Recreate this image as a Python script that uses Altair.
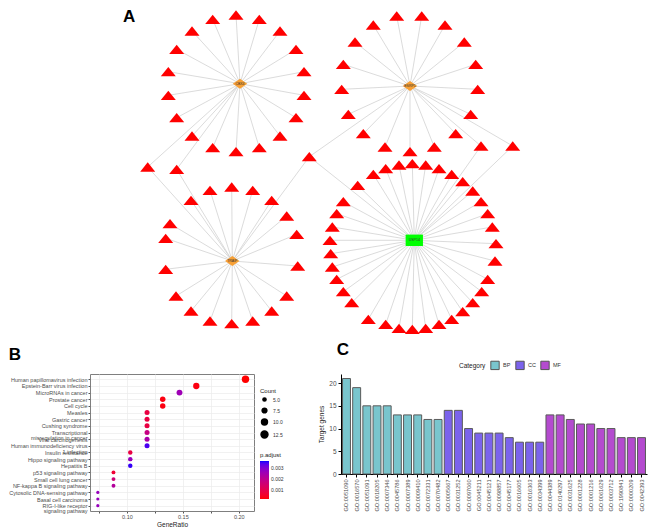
import altair as alt
import pandas as pd

FONT = "Liberation Sans"

# ---------------- Panel A: network (node positions, px) ----------------
hub_label = ["CBX4", "ESRP1", "TRAIP", "USP14"]
hub_kind = ["diamond", "diamond", "diamond", "square"]
hub_x = [240.0, 410.0, 232.3, 414.3]
hub_y = [82.7, 85.0, 260.0, 239.3]

tl_x = [212.7, 236.0, 259.3, 280.0, 296.0, 304.0, 304.0, 296.0, 280.0, 259.3, 236.0, 212.7, 192.0, 176.7, 168.3, 168.3, 176.7, 192.0]
tl_y = [18.3, 14.0, 18.3, 30.0, 48.3, 70.7, 94.3, 116.7, 135.0, 146.7, 150.7, 146.7, 135.0, 116.7, 94.3, 70.7, 48.3, 30.0]

tr_x = [373.3, 396.7, 421.7, 445.0, 464.3, 475.7, 477.7, 470.7, 455.7, 434.3, 410.0, 385.0, 363.3, 348.3, 341.7, 343.3, 355.0]
tr_y = [24.0, 15.0, 15.0, 24.0, 41.0, 63.3, 88.3, 113.3, 132.7, 146.0, 150.7, 146.0, 132.7, 113.3, 88.3, 63.3, 41.0]

bl_x = [210.0, 231.7, 252.7, 271.7, 286.7, 296.7, 297.7, 286.7, 271.7, 252.7, 231.7, 210.0, 191.0, 176.0, 165.7, 165.7, 170.0, 191.0]
bl_y = [189.3, 186.0, 189.3, 199.3, 215.0, 233.3, 265.0, 295.0, 310.0, 320.0, 322.7, 320.0, 310.0, 295.0, 268.3, 237.3, 222.7, 199.3]

br_x = [357.7, 373.3, 385.7, 399.0, 412.3, 425.7, 439.0, 451.7, 462.7, 472.7, 481.0, 487.7, 492.3, 496.0, 495.0,
        487.7, 481.7, 472.7, 462.7, 451.7, 439.0, 425.7, 412.3, 399.0, 385.7, 368.3, 351.7, 343.3, 336.7, 332.3,
        330.7, 330.0, 332.3, 336.7, 343.3]
br_y = [184.3, 173.3, 167.7, 164.0, 162.7, 164.0, 167.7, 173.3, 180.7, 190.0, 200.7, 212.7, 226.0, 242.7, 260.0,
        278.3, 290.7, 301.7, 310.7, 318.3, 323.3, 327.3, 328.3, 327.3, 323.3, 318.3, 301.7, 290.7, 278.3, 266.0,
        252.7, 239.3, 226.0, 212.7, 200.7]

# targets shared by several hubs
sh_x = [147.7, 176.7, 309.3, 481.0, 512.7]
sh_y = [166.0, 168.3, 155.7, 145.0, 145.0]
sh_hubs = [[0, 2], [0, 2], [1, 2, 3], [1, 3], [1, 3]]

# ---------------- Panel B: KEGG dot plot ----------------
kegg_term = ["Human papillomavirus infection", "Epstein-Barr virus infection", "MicroRNAs in cancer",
             "Prostate cancer", "Cell cycle", "Measles", "Gastric cancer", "Cushing syndrome",
             "Transcriptional misregulation in cancer", "Viral carcinogenesis",
             "Human immunodeficiency virus 1 infection", "Insulin resistance", "Hippo signaling pathway",
             "Hepatitis B", "p53 signaling pathway", "Small cell lung cancer", "NF-kappa B signaling pathway",
             "Cytosolic DNA-sensing pathway", "Basal cell carcinoma", "RIG-I-like receptor signaling pathway"]
kegg_count = [14, 11, 10, 9, 9, 8, 8, 8, 8, 8, 8, 7, 7, 7, 6, 6, 6, 5, 5, 5]
kegg_ratio = [0.206, 0.162, 0.147, 0.132, 0.132, 0.118, 0.118, 0.118, 0.118, 0.118, 0.118,
              0.103, 0.103, 0.103, 0.088, 0.088, 0.088, 0.074, 0.074, 0.074]
kegg_padj = [0.0001, 0.0002, 0.0026, 0.0002, 0.0002, 0.0008, 0.0008, 0.0008, 0.0018, 0.0024, 0.0035,
             0.0008, 0.0027, 0.0036, 0.0006, 0.0016, 0.0022, 0.0027, 0.0027, 0.0027]
wrapped = {
    "Transcriptional misregulation in cancer": ["Transcriptional", "misregulation in cancer"],
    "Human immunodeficiency virus 1 infection": ["Human immunodeficiency virus", "1 infection"],
    "RIG-I-like receptor signaling pathway": ["RIG-I-like receptor", "signaling pathway"],
}

# ---------------- Panel C: GO bar chart ----------------
go_id = ["GO:0051090", "GO:0016570", "GO:0051091", "GO:0018205", "GO:0007346", "GO:0045786", "GO:0007389",
         "GO:0009410", "GO:0072331", "GO:0070482",
         "GO:0005667", "GO:0031252", "GO:0097060", "GO:0045211", "GO:0045121", "GO:0098857", "GO:0045177",
         "GO:0016605", "GO:0016363", "GO:0034399",
         "GO:0044389", "GO:0140297", "GO:0031625", "GO:0001228", "GO:0001216", "GO:0061629", "GO:0003712",
         "GO:1990841", "GO:0000209", "GO:0042393"]
go_genes = [21, 19, 15, 15, 15, 13, 13, 13, 12, 12,
            14, 14, 10, 9, 9, 9, 8, 7, 7, 7,
            13, 13, 12, 11, 11, 10, 10, 8, 8, 8]
go_cat = ["BP"] * 10 + ["CC"] * 10 + ["MF"] * 10
cat_names = ["BP", "CC", "MF"]
cat_colors = ["#79C5CD", "#7B63EC", "#B44BCF"]

# ================= build =================
NET_LEFT = 90  # page x where the network panel starts (aligned with panel B's plot)

edge_rows = []
for h, (xs, ys) in enumerate([(tl_x, tl_y), (tr_x, tr_y), (bl_x, bl_y), (br_x, br_y)]):
    for x, y in zip(xs, ys):
        edge_rows.append({"x": hub_x[h], "y": hub_y[h], "x2": x, "y2": y})
for x, y, hubs in zip(sh_x, sh_y, sh_hubs):
    for h in hubs:
        edge_rows.append({"x": hub_x[h], "y": hub_y[h], "x2": x, "y2": y})
edges = pd.DataFrame(edge_rows)
nodes = pd.DataFrame({"x": tl_x + tr_x + bl_x + br_x + sh_x, "y": tl_y + tr_y + bl_y + br_y + sh_y})
hubs_df = pd.DataFrame({"x": hub_x, "y": hub_y, "label": hub_label, "kind": hub_kind})

NX = alt.Scale(domain=[NET_LEFT, 651], nice=False, zero=False)
NY = alt.Scale(domain=[8, 336], nice=False, zero=False, reverse=True)
ex = alt.X("x:Q", scale=NX, axis=None)
ey = alt.Y("y:Q", scale=NY, axis=None)

edge_layer = alt.Chart(edges).mark_rule(color="#CCCCCC", strokeWidth=0.7).encode(
    x=ex, y=ey, x2="x2:Q", y2="y2:Q")
tri_layer = alt.Chart(nodes).mark_point(
    shape="M0,-0.62L1,0.62L-1,0.62Z", filled=True, size=225, color="#FF0000", opacity=1, strokeWidth=0
).encode(x=ex, y=ey)
dia_layer = alt.Chart(hubs_df).transform_filter("datum.kind == 'diamond'").mark_point(
    shape="M-1,0L0,-0.7L1,0L0,0.7Z", filled=True, size=210, color="#F7A035", opacity=1, strokeWidth=0
).encode(x=ex, y=ey)
sq_layer = alt.Chart(hubs_df).transform_filter("datum.kind == 'square'").mark_point(
    shape="M-1,-0.66L1,-0.66L1,0.66L-1,0.66Z", filled=True, size=300, color="#00FF00", opacity=1, strokeWidth=0
).encode(x=ex, y=ey)
hub_text = alt.Chart(hubs_df).mark_text(font=FONT, fontSize=3.5, color="#333333").encode(
    x=ex, y=ey, text="label:N")
a_text = alt.Chart(pd.DataFrame({"t": ["A"]})).mark_text(
    font=FONT, fontSize=17, fontWeight="bold", align="left", baseline="top", color="black"
).encode(text="t:N", x=alt.value(123 - NET_LEFT), y=alt.value(0))

network = alt.layer(edge_layer, tri_layer, dia_layer, sq_layer, hub_text, a_text).properties(
    width=651 - NET_LEFT, height=328)

# ---- B
kegg = pd.DataFrame({"term": kegg_term, "count": kegg_count, "ratio": kegg_ratio, "padj": kegg_padj})
label_expr = ""
for k, v in wrapped.items():
    label_expr += "datum.label == '%s' ? ['%s', '%s'] : " % (k, v[0], v[1])
label_expr += "datum.label"

dot = alt.Chart(kegg).mark_circle(opacity=1).encode(
    x=alt.X("ratio:Q", title="GeneRatio",
            scale=alt.Scale(domain=[0.067, 0.2136], nice=False, zero=False),
            axis=alt.Axis(values=[0.075, 0.1, 0.125, 0.15, 0.175, 0.2],
                          labelExpr="indexof(['0.10','0.15','0.20'], format(datum.value, '.2f')) >= 0 ? format(datum.value, '.2f') : ''",
                          labelFontSize=5.5, labelColor="#4D4D4D", tickSize=2, tickColor="#555555",
                          domain=False, grid=True, gridColor="#EBEBEB", gridWidth=0.7,
                          titleFontSize=6.5, titleFontWeight="normal", titleColor="#222222",
                          titlePadding=2, labelPadding=1)),
    y=alt.Y("term:N", sort=kegg_term, title=None,
            scale=alt.Scale(padding=0.8),
            axis=alt.Axis(labelExpr=label_expr, labelFontSize=5.5, labelColor="#4D4D4D", labelLineHeight=5.2,
                          tickSize=2, tickColor="#555555", domain=False, grid=True, gridColor="#EBEBEB",
                          gridWidth=0.7, labelPadding=1, labelLimit=200)),
    size=alt.Size("count:Q", scale=alt.Scale(domain=[5, 14], range=[10, 55], zero=False),
                  legend=alt.Legend(title="Count", orient="none", legendX=170, legendY=14,
                                    values=[5, 7.5, 10, 12.5], format=".1f", symbolFillColor="black",
                                    symbolStrokeColor="black", symbolType="circle",
                                    titleFontSize=6, titleFontWeight="normal", labelFontSize=5,
                                    rowPadding=0, titlePadding=3)),
    color=alt.Color("padj:Q", scale=alt.Scale(domain=[0.0001, 0.0037], range=["#FF0000", "#0000FF"],
                                              interpolate="lab"),
                    legend=alt.Legend(title="p.adjust", orient="none", legendX=170, legendY=78,
                                      values=[0.001, 0.002, 0.003], format=".3f", gradientLength=38,
                                      gradientThickness=9, titleFontSize=6, titleFontWeight="normal",
                                      labelFontSize=5, titlePadding=3)),
).properties(
    width=164, height=137,
    title=alt.TitleParams("B", anchor="start", frame="bounds", fontSize=17, fontWeight="bold",
                          font=FONT, offset=10, color="black"),
    view=alt.ViewBackground(stroke="#7F7F7F", strokeWidth=1, strokeOpacity=1),
)

# ---- C
go = pd.DataFrame({"go": go_id, "genes": go_genes, "cat": go_cat})
bars = alt.Chart(go).mark_bar(stroke="#5A5A5A", strokeWidth=1).encode(
    x=alt.X("go:N", sort=go_id, title=None,
            scale=alt.Scale(paddingInner=0.22, paddingOuter=0.15),
            axis=alt.Axis(labelAngle=270, labelFontSize=5.6, labelColor="#4D4D4D", tickColor="black",
                          domainColor="black", tickSize=3, labelPadding=2)),
    y=alt.Y("genes:Q", title="Target genes", scale=alt.Scale(domain=[0, 22], nice=False),
            axis=alt.Axis(values=[0, 5, 10, 15, 20], grid=False, labelFontSize=6.5, labelColor="#4D4D4D",
                          domainColor="black", tickColor="black", tickSize=3, titleFontSize=6.5,
                          titleFontWeight="normal", titleColor="#222222", titlePadding=4)),
    color=alt.Color("cat:N", scale=alt.Scale(domain=cat_names, range=cat_colors),
                    legend=alt.Legend(title="Category", orient="none", direction="horizontal",
                                      titleOrient="left", legendX=118, legendY=-14, symbolType="square",
                                      symbolSize=70, symbolStrokeColor="#555555", symbolStrokeWidth=1,
                                      labelFontSize=5.5, titleFontSize=6.5, titleFontWeight="normal",
                                      columnPadding=2, labelOffset=3, titlePadding=4, symbolOpacity=1)),
).properties(
    width=306, height=100,
    title=alt.TitleParams("C", anchor="start", frame="bounds", fontSize=17, fontWeight="bold",
                          font=FONT, offset=1, dx=18, color="black"),
)

bottom = alt.hconcat(dot, bars, spacing=33).resolve_scale(color="independent", size="independent")
chart = alt.vconcat(network, bottom, spacing=4).resolve_scale(
    color="independent", size="independent", x="independent", y="independent"
).properties(padding=0, background="white").configure_view(
    strokeWidth=0
).configure_axis(labelFont=FONT, titleFont=FONT).configure_legend(labelFont=FONT, titleFont=FONT,
                                                                 labelColor="#333333", titleColor="#222222")

chart.save("out.html", embed_options={"renderer": "svg", "actions": False})
